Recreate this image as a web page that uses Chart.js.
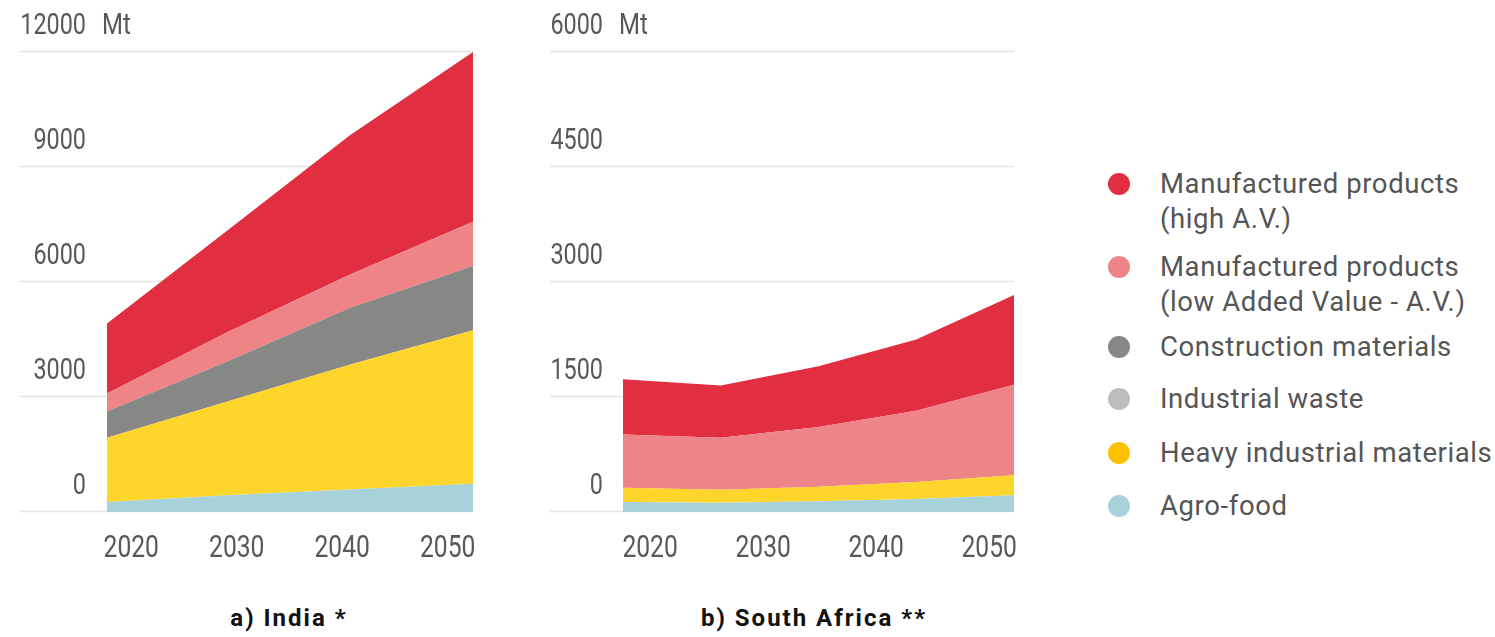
<!DOCTYPE html>
<html>
<head>
<meta charset="utf-8">
<script src="https://cdn.jsdelivr.net/npm/chart.js@4.4.1/dist/chart.umd.min.js"></script>
<style>
  body { margin: 0; background: #fff; width: 1495px; height: 637px; position: relative; overflow: hidden; font-family: Roboto, sans-serif; }
  .box { position: absolute; top: 0; }
  #legend { position: absolute; left: 1105px; top: 0; }
  .item { position: absolute; left: 0; white-space: nowrap; }
  .dot { position: absolute; left: 3px; width: 22px; height: 22px; border-radius: 50%; }
  .txt { position: absolute; left: 55px; font-size: 27.5px; line-height: 35px; color: #555; letter-spacing: 0.6px; }
  .title { position: absolute; top: 604px; font: bold 24px Roboto, sans-serif; letter-spacing: 2px; color: #111; transform: translateX(-50%); white-space: nowrap; }
</style>
</head>
<body>
<div class="box" style="left:0"><canvas id="india" width="500" height="571"></canvas></div>
<div class="box" style="left:520px"><canvas id="sa" width="520" height="571"></canvas></div>
<div class="title" style="left:289px">a) India *</div>
<div class="title" style="left:814px">b) South Africa **</div>
<div id="legend"></div>

<script>
// series names, colours (bottom of the stack first)
const seriesNames = ['Agro-food', 'Heavy industrial materials', 'Industrial waste', 'Construction materials',
  'Manufactured products\n(low Added Value - A.V.)', 'Manufactured products\n(high A.V.)'];
const areaColors = ['#a7d2da', '#fed52b', '#bdbdbd', '#878786', '#ee8487', '#e12e40'];
const dotColors = ['#a7d2da', '#fcc200', '#bdbdbd', '#878786', '#ee8487', '#e12e40'];

const xTicks = [2020, 2030, 2040, 2050];

// India, Mt
const indiaYears = [2017.7, 2029.2, 2040.7, 2052.4];
const indiaAgro = [260, 440, 590, 740];
const indiaHeavy = [1680, 2450, 3250, 4000];
const indiaWaste = [0, 0, 0, 0];
const indiaConstruction = [680, 1050, 1480, 1680];
const indiaLowAV = [470, 760, 870, 1150];
const indiaHighAV = [1830, 2660, 3630, 4430];
const indiaTicks = [0, 3000, 6000, 9000, 12000];

// South Africa, Mt
const saYears = [2017.6, 2026.25, 2034.9, 2043.55, 2052.2];
const saAgro = [130, 120, 140, 170, 220];
const saHeavy = [185, 170, 190, 220, 260];
const saWaste = [0, 0, 0, 0, 0];
const saConstruction = [0, 0, 0, 0, 0];
const saLowAV = [695, 680, 780, 930, 1180];
const saHighAV = [720, 680, 790, 930, 1170];
const saTicks = [0, 1500, 3000, 4500, 6000];

// narrow-looking numbers: Roboto squeezed horizontally
function narrowText(ctx, text, x, y, size, squeeze, align) {
  ctx.save();
  ctx.font = size + 'px Roboto, sans-serif';
  ctx.textAlign = align;
  ctx.textBaseline = 'middle';
  ctx.translate(x, y);
  ctx.scale(squeeze, 1);
  ctx.fillText(text, 0, 0);
  ctx.restore();
}

// gridlines running out past the plot on the left, value above each line, years below
const axisText = {
  id: 'axisText',
  beforeDatasetsDraw(chart, args, opts) {
    const ctx = chart.ctx, y = chart.scales.y, x = chart.scales.x;
    ctx.save();
    ctx.fillStyle = '#585858';
    opts.ticks.forEach((v, i) => {
      const py = Math.round(y.getPixelForValue(v)) - 0.5;
      ctx.strokeStyle = '#e4e4e4';
      ctx.lineWidth = 1.5;
      ctx.beginPath();
      ctx.moveTo(opts.gridLeft, py);
      ctx.lineTo(chart.chartArea.right, py);
      ctx.stroke();
      narrowText(ctx, String(v), opts.labelRight, py - 25, 30, 0.78, 'right');
      if (i === opts.ticks.length - 1) {
        narrowText(ctx, 'Mt', opts.labelRight + 16, py - 25, 30, 0.8, 'left');
      }
    });
    xTicks.forEach(v => {
      narrowText(ctx, String(v), x.getPixelForValue(v), chart.chartArea.bottom + 37, 32, 0.77, 'center');
    });
    ctx.restore();
  }
};

function makeChart(id, years, series, ticks, pad, grid) {
  const datasets = series.map((vals, i) => ({
    label: seriesNames[i],
    data: vals.map((v, j) => ({ x: years[j], y: v })),
    backgroundColor: areaColors[i],
    borderWidth: 0,
    pointRadius: 0,
    tension: 0,
    fill: i === 0 ? 'origin' : '-1'
  }));
  return new Chart(document.getElementById(id), {
    type: 'line',
    data: { datasets },
    plugins: [axisText],
    options: {
      responsive: false,
      animation: false,
      devicePixelRatio: 1,
      layout: { padding: pad },
      plugins: {
        legend: { display: false },
        tooltip: { enabled: false },
        axisText: { ticks, gridLeft: grid.left, labelRight: grid.labelRight }
      },
      scales: {
        x: {
          display: false,
          type: 'linear',
          min: years[0],
          max: years[years.length - 1]
        },
        y: {
          display: false,
          stacked: true,
          min: ticks[0],
          max: ticks[ticks.length - 1]
        }
      }
    }
  });
}

makeChart('india', indiaYears,
  [indiaAgro, indiaHeavy, indiaWaste, indiaConstruction, indiaLowAV, indiaHighAV],
  indiaTicks, { left: 107, right: 27, top: 52, bottom: 59 }, { left: 20, labelRight: 86 });

makeChart('sa', saYears,
  [saAgro, saHeavy, saWaste, saConstruction, saLowAV, saHighAV],
  saTicks, { left: 103, right: 26, top: 52, bottom: 59 }, { left: 30, labelRight: 83 });

// legend, top of the stack first
const legendRows = [
  { idx: 5, y: 184 },
  { idx: 4, y: 267 },
  { idx: 3, y: 347 },
  { idx: 2, y: 399 },
  { idx: 1, y: 453 },
  { idx: 0, y: 506 }
];
const legend = document.getElementById('legend');
legendRows.forEach(r => {
  const item = document.createElement('div');
  item.className = 'item';
  item.style.top = r.y + 'px';
  const dot = document.createElement('div');
  dot.className = 'dot';
  dot.style.top = '-11px';
  dot.style.background = dotColors[r.idx];
  const txt = document.createElement('div');
  txt.className = 'txt';
  txt.style.top = '-18px';
  txt.innerHTML = seriesNames[r.idx].replace('\n', '<br>');
  item.appendChild(dot);
  item.appendChild(txt);
  legend.appendChild(item);
});
</script>
</body>
</html>
